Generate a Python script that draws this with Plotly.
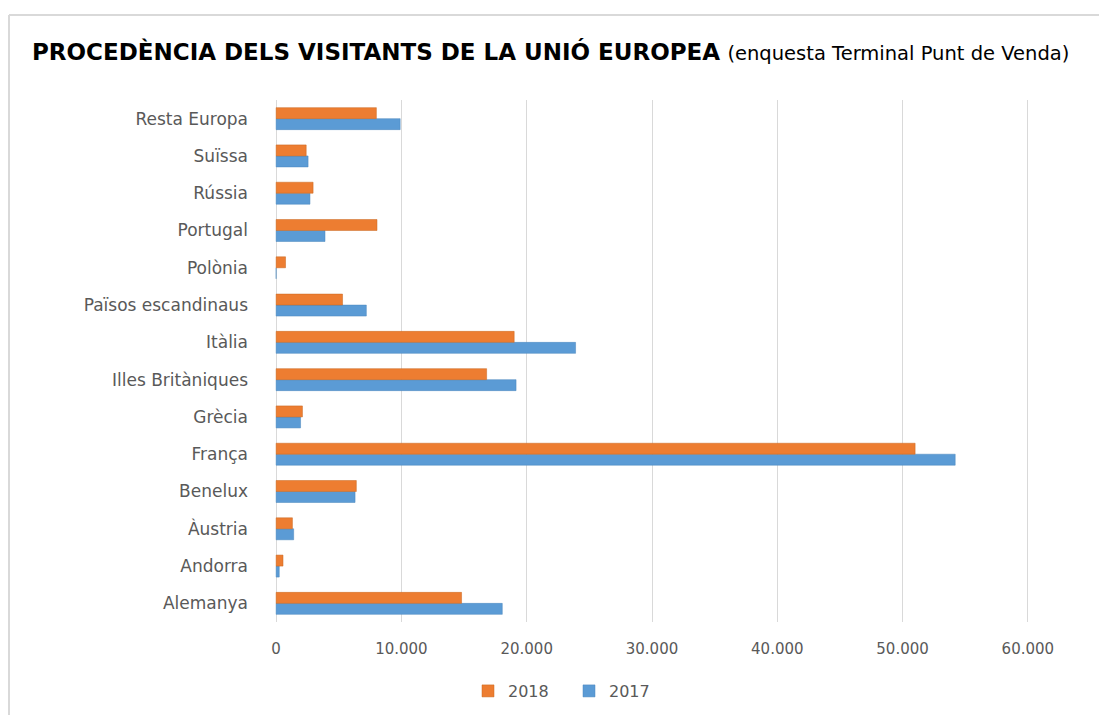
import plotly.graph_objects as go

categories = ["Alemanya", "Andorra", "Àustria", "Benelux", "França", "Grècia",
              "Illes Britàniques", "Itàlia", "Països escandinaus", "Polònia",
              "Portugal", "Rússia", "Suïssa", "Resta Europa"]
values_2018 = [14800, 550, 1300, 6400, 51000, 2100, 16800, 19000, 5300, 750, 8050, 2950, 2400, 8000]
values_2017 = [18050, 250, 1400, 6300, 54200, 1950, 19150, 23900, 7200, 0, 3900, 2700, 2550, 9900]
tick_vals = [0, 10000, 20000, 30000, 40000, 50000, 60000]

OFF = 8  # default body margin of the written page
W, H = 1107 - OFF, 715 - OFF
L, T = 273 - OFF, 100 - OFF
PW, PH = 758, 522

def px(x):
    return (x - OFF - L) / PW

def py(y):
    return (T + PH - (y - OFF)) / PH

fig = go.Figure()
fig.add_trace(go.Bar(y=categories, x=values_2017, orientation="h", name="2017",
                     marker=dict(color="#5B9BD5", line=dict(color="#4a86bd", width=0.5))))
fig.add_trace(go.Bar(y=categories, x=values_2018, orientation="h", name="2018",
                     marker=dict(color="#ED7D31", line=dict(color="#c9661f", width=0.5))))

fig.update_layout(
    width=W, height=H,
    margin=dict(l=L, r=W - L - PW, t=T, b=H - T - PH, autoexpand=False),
    paper_bgcolor="white", plot_bgcolor="white",
    separators=",.",
    barmode="group", bargap=0.41, bargroupgap=0.0,
    font=dict(family="DejaVu Sans", color="#595959", size=15),
    showlegend=True,
    legend=dict(orientation="h", x=px(468), xanchor="left", y=py(691), yanchor="middle",
                traceorder="reversed", font=dict(family="DejaVu Sans", size=16, color="#595959"),
                itemwidth=30, entrywidth=56, entrywidthmode="pixels"),
    xaxis=dict(range=[-250, 60250], tickvals=tick_vals, tickformat=",d", automargin=False,
               showgrid=True, gridcolor="#d9d9d9", gridwidth=1, zeroline=False,
               showline=False, ticks="", ticklabelstandoff=16,
               tickfont=dict(family="DejaVu Sans", size=15, color="#595959")),
    yaxis=dict(categoryorder="array", categoryarray=categories, showgrid=False, automargin=False,
               zeroline=False, showline=False, ticks="", ticklabelstandoff=24,
               tickfont=dict(family="DejaVu Sans", size=17, color="#595959")),
    annotations=[dict(
        xref="paper", yref="paper", x=px(30), y=py(52), xanchor="left", yanchor="middle",
        showarrow=False,
        text="<b>PROCEDÈNCIA DELS VISITANTS DE LA UNIÓ EUROPEA</b> <span style='font-size:19.5px'>(enquesta Terminal Punt de Venda)</span>",
        font=dict(family="DejaVu Sans", size=23, color="black"))],
    shapes=[
        dict(type="line", xref="paper", yref="paper", x0=px(9), x1=px(1107), y0=py(15), y1=py(15),
             line=dict(color="#d9d9d9", width=2)),
        dict(type="line", xref="paper", yref="paper", x0=px(9), x1=px(9), y0=py(15), y1=py(715),
             line=dict(color="#d9d9d9", width=2)),
    ],
)

fig.write_html("out.html")
